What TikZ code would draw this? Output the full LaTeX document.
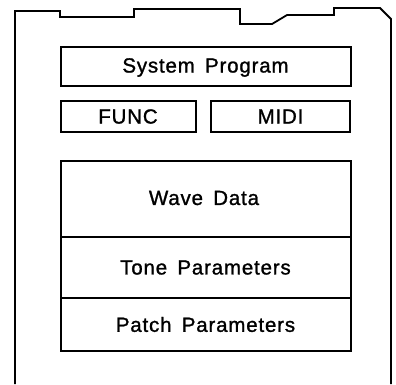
\documentclass[tikz,border=0pt]{standalone}
\usepackage{fontspec}
\setmainfont{Liberation Sans}[LetterSpace=4,FakeBold=1.2]
\begin{document}
\begin{tikzpicture}[x=1pt,y=-1pt,
  box/.style={draw,line width=2pt,minimum width=#1,inner sep=0pt,anchor=north west},
  lbl/.style={font=\fontsize{20.5}{23}\selectfont,inner sep=0pt}]
\useasboundingbox (0,0) rectangle (396,384);
% cartridge outline with notched top edge
\draw[line width=1.8pt,line join=miter]
  (15,384) -- (15,11) -- (60,11) -- (60,17) -- (134,17) -- (134,9) -- (240,9)
  -- (240,24) -- (272,24) -- (287,15) -- (334,15) -- (334,8) -- (380,8)
  -- (391,19) -- (391,384);
% memory blocks
\node[box=290pt,minimum height=39pt] (sys) at (59.5,46) {};
\node[box=135pt,minimum height=31pt] (func) at (59.5,100) {};
\node[box=139pt,minimum height=31pt] (midi) at (210,100) {};
\node[box=290pt,minimum height=76pt] (wave) at (59.5,160) {};
\node[box=290pt,minimum height=61pt] (tone) at (59.5,236) {};
\node[box=290pt,minimum height=53pt] (patch) at (59.5,297) {};
\node[lbl] at ([yshift=-1pt]sys.center) {System\hspace{0.5em}Program};
\node[lbl] at (func.center) {FUNC};
\node[lbl] at (midi.center) {MIDI};
\node[lbl] at (204,198) {Wave\hspace{0.5em}Data};
\node[lbl] at (tone.center) {Tone\hspace{0.5em}Parameters};
\node[lbl] at (patch.center) {Patch\hspace{0.5em}Parameters};
\end{tikzpicture}
\end{document}
